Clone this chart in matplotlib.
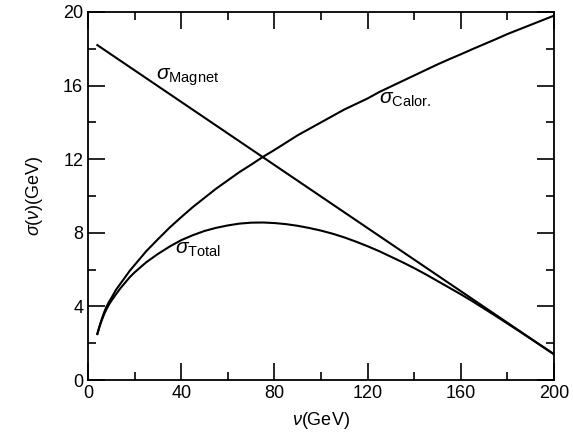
import matplotlib
matplotlib.use("Agg")
import matplotlib.pyplot as plt
from matplotlib.ticker import MultipleLocator

plt.rcParams['font.family'] = ['Liberation Sans', 'DejaVu Sans']
plt.rcParams['mathtext.fontset'] = 'custom'
plt.rcParams['mathtext.rm'] = 'Liberation Sans'
plt.rcParams['mathtext.it'] = 'Liberation Sans:italic'

# values
nu_magnet = [4, 200]
sigma_magnet = [18.2, 1.4]

nu_curve = [4, 5, 6, 7, 8, 9, 10, 12, 14, 16, 18, 20, 25, 30, 35, 40, 45,
            50, 55, 60, 65, 70, 75, 80, 85, 90, 95, 100, 105, 110, 115, 120,
            125, 130, 135, 140, 145, 150, 155, 160, 165, 170, 175, 180, 185,
            190, 195, 200]
sigma_calor = [2.5, 2.95, 3.35, 3.7, 4.0, 4.25, 4.45, 4.9, 5.25, 5.6, 5.95,
               6.25, 7.0, 7.65, 8.28, 8.85, 9.4, 9.9, 10.4, 10.85, 11.3, 11.7,
               12.12, 12.5, 12.9, 13.3, 13.65, 14.0, 14.35, 14.7, 15.0, 15.3,
               15.65, 15.95, 16.25, 16.55, 16.85, 17.15, 17.43, 17.7, 17.98,
               18.25, 18.52, 18.8, 19.05, 19.3, 19.55, 19.8]
sigma_total = [2.5, 2.92, 3.28, 3.6, 3.87, 4.1, 4.3, 4.66, 5.0, 5.3, 5.6,
               5.85, 6.4, 6.85, 7.25, 7.6, 7.87, 8.1, 8.27, 8.4, 8.5, 8.55,
               8.56, 8.53, 8.47, 8.38, 8.26, 8.12, 7.95, 7.75, 7.52, 7.27,
               7.0, 6.7, 6.4, 6.08, 5.74, 5.38, 5.02, 4.66, 4.28, 3.88, 3.48,
               3.07, 2.66, 2.24, 1.82, 1.4]

fig = plt.figure(figsize=(5.73, 4.34), dpi=100)
ax = fig.add_axes([0.1536, 0.1244, 0.8132, 0.848])

ax.plot(nu_magnet, sigma_magnet, color='black', linewidth=1.5)
ax.plot(nu_curve, sigma_calor, color='black', linewidth=1.5)
ax.plot(nu_curve, sigma_total, color='black', linewidth=1.5)

ax.text(29, 16.3, r'$\it{\sigma}_{\mathrm{Magnet}}$', fontsize=15)
ax.text(125, 15.0, r'$\it{\sigma}_{\mathrm{Calor.}}$', fontsize=15)
ax.text(37.5, 6.85, r'$\it{\sigma}_{\mathrm{Total}}$', fontsize=15)

ax.set_xlim(0, 200)
ax.set_ylim(0, 20)
ax.xaxis.set_major_locator(MultipleLocator(40))
ax.xaxis.set_minor_locator(MultipleLocator(20))
ax.yaxis.set_major_locator(MultipleLocator(4))
ax.yaxis.set_minor_locator(MultipleLocator(2))
ax.tick_params(which='both', direction='in', top=True, right=True,
               labelsize=13, width=1.2)
ax.tick_params(which='major', length=12)
ax.tick_params(which='minor', length=6)
for s in ax.spines.values():
    s.set_linewidth(1.3)

ax.set_xlabel(r'$\it{\nu}$(GeV)', fontsize=13, labelpad=6)
ax.set_ylabel(r'$\it{\sigma}$($\it{\nu}$)(GeV)', fontsize=13, labelpad=13)

fig.savefig('out.png', dpi=100)
